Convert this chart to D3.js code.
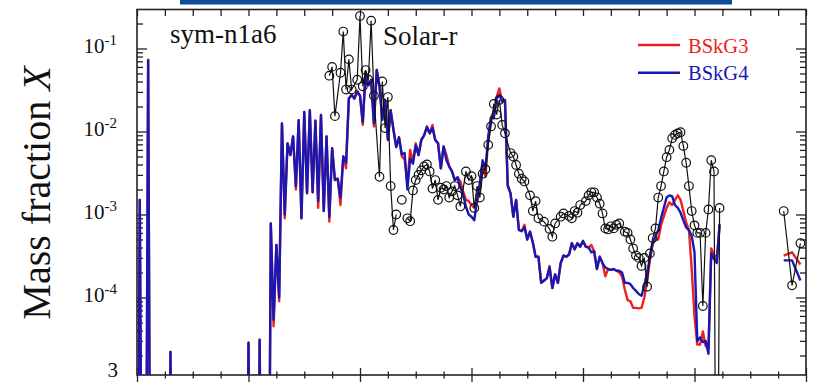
<!DOCTYPE html>
<html>
<head>
<meta charset="utf-8">
<script src="https://cdn.jsdelivr.net/npm/d3@7"></script>
<style>
  body { margin: 0; background: #fff; }
  svg text { font-family: "Liberation Serif", "Times New Roman", "DejaVu Serif", serif; }
</style>
</head>
<body>
<svg id="chart" width="818" height="386"></svg>
<script>
// ---- data (mass fraction X vs mass number A) ----
// model abundances, one value per A starting at A = 0 (0 = not produced)
const bskg3 = [
  0, 1.5e-3, 0, 0, 0.073, 0, 0, 0, 0, 0,
  0, 0, 2.2e-5, 0, 0, 0, 0, 0, 0, 0,
  0, 0, 0, 0, 0, 0, 0, 0, 0, 0,
  0, 0, 0, 0, 0, 0, 0, 0, 0, 0,
  2.85e-5, 0, 0, 0, 3.1e-5, 0, 0, 0, 7.8e-4, 4.5e-5,
  4.3e-4, 9.0e-5, 0.0125, 9.0e-4, 7.2e-3, 5.2e-3, 8.7e-3, 2.0e-3, 0.0137, 9.0e-4,
  0.0172, 1.8e-3, 0.018, 1.85e-3, 0.0135, 1.2e-3, 0.0158, 1.1e-3, 8.7e-3, 8.2e-4,
  6.3e-3, 2.6e-3, 2.7e-3, 1.3e-3, 5.0e-3, 3.6e-3, 0.025, 0.0275, 0.025, 0.031,
  0.027, 0.012, 0.052, 0.036, 0.042, 0.0115, 0.055, 0.035, 0.0138, 0.024,
  7.9e-3, 0.018, 0.0105, 6.5e-3, 8.5e-3, 5.0e-3, 4.6e-3, 2.4e-3, 6.0e-3, 4.3e-3,
  7.2e-3, 5.2e-3, 7.9e-3, 9.0e-3, 0.0114, 9.5e-3, 0.012, 7.9e-3, 7.2e-3, 3.6e-3,
  6.6e-3, 5.2e-3, 3.8e-3, 3.3e-3, 2.6e-3, 2.8e-3, 2.5e-3, 1.9e-3, 1.5e-3, 1.45e-3,
  1.3e-3, 1.2e-3, 1.4e-3, 2.2e-3, 4.0e-3, 2.85e-3, 8.0e-3, 0.0148, 0.017, 0.026,
  0.033, 0.023, 0.024, 2.3e-3, 1.8e-3, 9.4e-4, 1.5e-3, 6.5e-4, 6.3e-4, 7.5e-4,
  5.0e-4, 6.2e-4, 4.6e-4, 3.1e-4, 3.1e-4, 1.5e-4, 1.6e-4, 1.7e-4, 2.4e-4, 1.3e-4,
  1.9e-4, 1.5e-4, 2.6e-4, 3.2e-4, 3.1e-4, 3.3e-4, 4.5e-4, 3.8e-4, 4.5e-4, 4.1e-4,
  4.8e-4, 4.1e-4, 4.0e-4, 4.3e-4, 3.6e-4, 2.2e-4, 3.1e-4, 2.6e-4, 1.8e-4, 2.2e-4,
  2.15e-4, 2.2e-4, 2.1e-4, 2.0e-4, 1.8e-4, 1.25e-4, 9.3e-5, 9.0e-5, 7.5e-5, 7.5e-5,
  7.4e-5, 7.5e-5, 1.0e-4, 1.6e-4, 2.8e-4, 4.4e-4, 5.0e-4, 5.0e-4, 7.5e-4, 9.5e-4,
  1.2e-3, 1.4e-3, 1.3e-3, 1.5e-3, 1.7e-3, 1.5e-3, 1.1e-3, 8.0e-4, 6.5e-4, 2.2e-4,
  6.0e-5, 2.7e-5, 2.7e-5, 3.9e-5, 2.6e-5, 2.4e-5, 3.9e-4, 3.3e-4, 2.9e-4, 7.3e-4
];
const bskg4 = [
  0, 1.5e-3, 0, 0, 0.073, 0, 0, 0, 0, 0,
  0, 0, 2.2e-5, 0, 0, 0, 0, 0, 0, 0,
  0, 0, 0, 0, 0, 0, 0, 0, 0, 0,
  0, 0, 0, 0, 0, 0, 0, 0, 0, 0,
  2.85e-5, 0, 0, 0, 3.1e-5, 0, 0, 0, 7.8e-4, 5.4e-5,
  4.3e-4, 1.0e-4, 0.0125, 1.0e-3, 7.2e-3, 5.2e-3, 8.7e-3, 2.2e-3, 0.0137, 9.0e-4,
  0.0172, 1.8e-3, 0.018, 1.85e-3, 0.0135, 1.45e-3, 0.0158, 1.1e-3, 8.7e-3, 9.4e-4,
  6.3e-3, 2.6e-3, 2.7e-3, 1.6e-3, 5.0e-3, 4.2e-3, 0.025, 0.0275, 0.025, 0.030,
  0.027, 0.013, 0.052, 0.036, 0.042, 0.0126, 0.055, 0.035, 0.0138, 0.024,
  7.9e-3, 0.018, 0.0105, 6.5e-3, 8.5e-3, 5.3e-3, 5.5e-3, 2.0e-3, 4.7e-3, 4.1e-3,
  6.8e-3, 5.2e-3, 7.9e-3, 9.0e-3, 0.0114, 9.5e-3, 0.011, 7.9e-3, 7.2e-3, 3.6e-3,
  6.6e-3, 4.5e-3, 3.8e-3, 3.3e-3, 2.6e-3, 2.8e-3, 2.1e-3, 1.75e-3, 1.24e-3, 1.0e-3,
  9.4e-4, 8.5e-4, 1.5e-3, 2.4e-3, 4.5e-3, 3.5e-3, 8.7e-3, 0.0148, 0.0144, 0.025,
  0.0275, 0.023, 0.024, 2.2e-3, 1.8e-3, 9.4e-4, 1.5e-3, 6.5e-4, 6.3e-4, 7.0e-4,
  5.0e-4, 6.2e-4, 4.6e-4, 3.1e-4, 3.1e-4, 1.5e-4, 1.6e-4, 1.7e-4, 2.3e-4, 1.3e-4,
  1.9e-4, 1.5e-4, 2.6e-4, 3.2e-4, 3.1e-4, 3.3e-4, 4.5e-4, 3.8e-4, 4.5e-4, 4.1e-4,
  4.8e-4, 4.1e-4, 4.0e-4, 3.5e-4, 3.6e-4, 2.2e-4, 3.1e-4, 2.6e-4, 2.3e-4, 2.2e-4,
  2.15e-4, 2.2e-4, 2.1e-4, 2.1e-4, 2.0e-4, 1.5e-4, 1.5e-4, 1.45e-4, 1.3e-4, 1.2e-4,
  1.1e-4, 1.05e-4, 1.4e-4, 2.0e-4, 3.0e-4, 4.5e-4, 5.5e-4, 6.5e-4, 9.0e-4, 1.2e-3,
  1.6e-3, 1.7e-3, 1.65e-3, 1.3e-3, 1.2e-3, 1.05e-3, 8.5e-4, 7.0e-4, 6.5e-4, 5.5e-4,
  3.5e-4, 3.0e-5, 3.3e-5, 2.9e-5, 3.0e-5, 2.1e-5, 3.4e-4, 2.9e-4, 2.6e-4, 7.7e-4
];
// actinides (Th, U)
const actinideA = [232, 235, 238];
const bskg3Actinides = [3.2e-4, 3.5e-4, 2.5e-4];
const bskg4Actinides = [2.8e-4, 2.8e-4, 1.6e-4];

// solar r-process residuals (null = break in the line)
const solarA = [
  69, 70, 71, 73, 74, 75, 76, 77, 79, 80, 81, 82, 83, 84, 85, 87, 88, 89, 90, 91,
  92, 93, 94, 95, 96, 97, 98, 99, 100, 101, 102, 103, 104, 105, 106, 107, 108, 109, 110,
  111, 112, 113, 114, 115, 116, 118, 119, 120, 121, 122, 123, 124, 125, 126, 127, 128,
  129, 130, 131, 132, 134, 135, 136, 137, 138, 139, 141, 142, 143, 144, 146, 148, 149,
  150, 152, 153, 155, 156, 157, 158, 159, 161, 162, 163, 164, 165, 166, 167, 168, 169,
  170, 171, 172, 173, 175, 176, 177, 178, 179, 180, 181, 182, 183, 184, 185, 186, 187,
  188, 189, 190, 191, 192, 193, 194, 195, 196, 197, 198, 199, 200, 201, 202, 203, 204,
  205, 206, 207, 208, 209, 210, 232, 235, 238
];
const solarX = [
  0.047, 0.060, 0.0153, 0.051, 0.16, 0.032, 0.074, 0.032, 0.042, 0.246, 0.035, 0.055, 0.042, 0.216, 0.027, 2.85e-3, 0.040, 0.011, 0.026, 2.2e-3,
  6.5e-4, 1.0e-3, null, 1.5e-3, null, 9.0e-4, 8.3e-4, 1.95e-3, 2.6e-3, 3.0e-3, 3.4e-3, 3.8e-3, 4.0e-3, 3.3e-3, 2.05e-3, 2.6e-3, 1.5e-3, 2.1e-3, 2.0e-3,
  2.2e-3, 1.6e-3, 1.9e-3, 2.2e-3, 1.7e-3, 1.25e-3, 3.3e-3, 2.6e-3, 2.9e-3, 1.2e-3, 2.2e-3, 1.6e-3, 3.1e-3, 3.5e-3, 6.9e-3, 0.0115, 0.0215,
  0.016, 0.024, 0.012, 9.5e-3, 5.5e-3, 5.0e-3, 3.95e-3, 3.1e-3, 2.7e-3, 2.5e-3, 1.7e-3, 1.1e-3, 1.45e-3, 9.0e-4, 8.2e-4, 6.7e-4, 5.4e-4,
  7.8e-4, 9.4e-4, 1.03e-3, 9.6e-4, 9.0e-4, 1.1e-3, 1.05e-3, 1.3e-3, 1.45e-3, 1.7e-3, 1.85e-3, 1.85e-3, 1.6e-3, 1.35e-3, 1.03e-3, 6.8e-4, 6.6e-4,
  7.2e-4, 6.8e-4, 7.5e-4, 7.8e-4, 6.2e-4, 6.0e-4, 5.0e-4, 3.9e-4, 3.2e-4, 3.0e-4, 2.4e-4, 3.0e-4, 1.35e-4, 3.4e-4, 5.2e-4, 6.8e-4, 1.6e-3,
  2.2e-3, 3.3e-3, 4.9e-3, 6.0e-3, 8.3e-3, 9.1e-3, 9.5e-3, 9.8e-3, 6.7e-3, 4.2e-3, 2.2e-3, 1.1e-3, 7.4e-4, 6.0e-4, 6.0e-4, 7.9e-5, 6.0e-4,
  1.15e-3, 4.5e-3, 3.3e-3, 0, 1.2e-3, null, 1.1e-3, 1.4e-4, 4.5e-4
];

// axis ticks
const xMinorTicks = [0, 10, 20, 30, 40, 50, 60, 70, 80, 90, 100, 110, 120, 130, 140, 150, 160, 170, 180, 190, 200, 210, 220, 230, 240];
const xMajorTicks = [0, 40, 80, 120, 160, 200, 240];
const yDecades = [-1, -2, -3, -4];
const yBottomLabel = '3';
const seriesNames = ['BSkG3', 'BSkG4'];

// ---- layout ----
const serif = '"Liberation Serif", "Times New Roman", "DejaVu Serif", serif';
const svg = d3.select('#chart').attr('font-family', serif);
const plot = { left: 137, right: 806, top: 9.5, bottom: 375 };
const floorX = 1e-9; // unproduced nuclei drop out of the bottom of the frame

const x = d3.scaleLinear().domain([0, 240]).range([plot.left, plot.right]);
const y = d3.scaleLog().domain([1.164e-5, 0.295]).range([plot.bottom, plot.top]);

const colors = { red: '#ee2020', blue: '#1818b4', black: '#111' };

// header band cut from the figure above
svg.append('rect')
    .attr('x', 180).attr('y', 0).attr('width', 552).attr('height', 4.5)
    .attr('fill', '#0c4c98');

svg.append('clipPath').attr('id', 'clip')
  .append('rect')
    .attr('x', plot.left).attr('y', plot.top)
    .attr('width', plot.right - plot.left).attr('height', plot.bottom - plot.top);

// log minor ticks
const yMinor = [];
[-5, -4, -3, -2, -1].forEach(e => {
    for (let k = 2; k <= 9; k++) {
        const v = k * Math.pow(10, e);
        if (v > y.domain()[0] && v < y.domain()[1]) yMinor.push(v);
    }
});
const yMajor = yDecades.map(e => Math.pow(10, e));

// ---- axes ----
function styleAxis(g) {
    g.select('.domain').remove();
    g.selectAll('.tick line').attr('stroke', '#222').attr('stroke-width', 1.3);
    g.selectAll('.tick text').remove();
}

svg.append('g')
    .attr('transform', `translate(0,${plot.bottom})`)
    .call(d3.axisBottom(x).tickValues(xMinorTicks).tickSize(0))
    .call(styleAxis)
    .call(g => g.selectAll('.tick line')
        .attr('y1', d => xMajorTicks.includes(d) ? -7 : -3.5)
        .attr('y2', d => xMajorTicks.includes(d) ? 7 : 3.5));

svg.append('g')
    .attr('transform', `translate(0,${plot.top})`)
    .call(d3.axisTop(x).tickValues(xMinorTicks).tickSize(-6.5))
    .call(styleAxis);

svg.append('g')
    .attr('transform', `translate(${plot.left},0)`)
    .call(d3.axisLeft(y).tickValues(yMajor.concat(yMinor)).tickSize(-6))
    .call(styleAxis)
    .call(g => g.selectAll('.tick line').attr('x2', d => yMajor.includes(d) ? 10 : 6));

svg.append('g')
    .attr('transform', `translate(${plot.right},0)`)
    .call(d3.axisRight(y).tickValues(yMajor.concat(yMinor)).tickSize(-6))
    .call(styleAxis)
    .call(g => g.selectAll('.tick line').attr('x2', d => yMajor.includes(d) ? -10 : -6));

// frame
svg.append('rect')
    .attr('x', plot.left).attr('y', plot.top)
    .attr('width', plot.right - plot.left).attr('height', plot.bottom - plot.top)
    .attr('fill', 'none').attr('stroke', '#222').attr('stroke-width', 1.6);

// y tick labels 10^n
yDecades.forEach(e => {
    const t = svg.append('text')
        .attr('x', 117).attr('y', y(Math.pow(10, e)) + 5)
        .attr('text-anchor', 'end')
        .attr('font-family', serif)
        .attr('font-size', 21).attr('fill', '#111');
    t.append('tspan').text('10');
    t.append('tspan').attr('dy', -8).attr('font-size', 15).text('-' + Math.abs(e));
});
svg.append('text')
    .attr('x', 118).attr('y', 377)
    .attr('text-anchor', 'end').attr('font-family', serif)
    .attr('font-size', 21).attr('fill', '#111')
    .text(yBottomLabel);

// axis title
const title = svg.append('text')
    .attr('transform', 'translate(50,193) rotate(-90)')
    .attr('text-anchor', 'middle')
    .attr('font-family', serif)
    .attr('font-size', 40).attr('fill', '#111');
title.append('tspan').text('Mass fraction ');
title.append('tspan').attr('font-style', 'italic').text('X');

// ---- series ----
const plotArea = svg.append('g').attr('clip-path', 'url(#clip)');

const modelLine = d3.line()
    .x(d => x(d[0]))
    .y(d => y(Math.max(d[1], floorX)));

function modelPoints(values) {
    return values.map((v, a) => [a, v]);
}
function actinidePoints(values) {
    return actinideA.map((a, i) => [a, values[i]]);
}

[[bskg3, bskg3Actinides, colors.red], [bskg4, bskg4Actinides, colors.blue]].forEach(([main, act, c]) => {
    plotArea.append('path')
        .datum(modelPoints(main))
        .attr('d', modelLine)
        .attr('fill', 'none').attr('stroke', c)
        .attr('stroke-width', 2.4).attr('stroke-linejoin', 'round');
    plotArea.append('path')
        .datum(actinidePoints(act))
        .attr('d', modelLine)
        .attr('fill', 'none').attr('stroke', c)
        .attr('stroke-width', 2.4).attr('stroke-linejoin', 'round');
});

const solarPoints = solarA.map((a, i) => [a, solarX[i]]);
const solarLine = d3.line()
    .defined(d => d[1] !== null)
    .x(d => x(d[0]))
    .y(d => y(Math.max(d[1], floorX)));

plotArea.append('path')
    .datum(solarPoints)
    .attr('d', solarLine)
    .attr('fill', 'none').attr('stroke', colors.black).attr('stroke-width', 1.2);

plotArea.selectAll('circle.solar')
    .data(solarPoints.filter(d => d[1] !== null && d[1] > 0))
    .enter().append('circle')
    .attr('class', 'solar')
    .attr('cx', d => x(d[0]))
    .attr('cy', d => y(d[1]))
    .attr('r', 4.3)
    .attr('fill', 'none').attr('stroke', colors.black).attr('stroke-width', 1.2);

// ---- labels ----
svg.append('text').attr('x', 170).attr('y', 43)
    .attr('font-family', serif)
    .attr('font-size', 27).attr('fill', '#111').text('sym-n1a6');
svg.append('text').attr('x', 383).attr('y', 45)
    .attr('font-family', serif)
    .attr('font-size', 27).attr('fill', '#111').text('Solar-r');

// legend
const legend = svg.append('g');
[colors.red, colors.blue].forEach((c, i) => {
    const ly = 45 + i * 27.7;
    legend.append('line')
        .attr('x1', 638).attr('x2', 680).attr('y1', ly).attr('y2', ly)
        .attr('stroke', c).attr('stroke-width', 2.4);
    legend.append('text')
        .attr('x', 688).attr('y', ly + 7.5)
        .attr('font-family', serif)
        .attr('font-size', 20.5).attr('fill', c)
        .text(seriesNames[i]);
});
</script>
</body>
</html>
